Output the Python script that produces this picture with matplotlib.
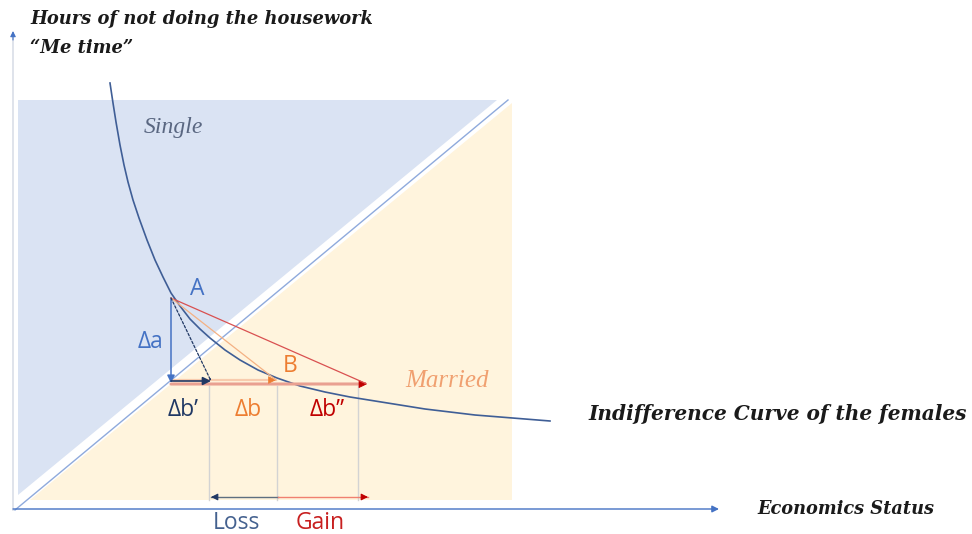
#!/usr/bin/env python3
"""Single vs married: indifference curve diagram of 'me time' vs economic status."""
import matplotlib.pyplot as plt
from matplotlib.patches import Polygon

# regions (pixel-like units, y grows downwards)
SINGLE_X = [18, 497, 18]
SINGLE_Y = [100, 100, 495]
MARRIED_X = [30, 512, 512]
MARRIED_Y = [500, 500, 103]
BORDER_X = [15, 508]
BORDER_Y = [510, 100]

# indifference curve, points
CURVE_X = [110, 113, 116, 120, 124, 128, 133, 139, 147, 155, 163, 171, 180, 190,
           200, 210, 225, 240, 258, 277, 300, 325, 350, 375, 400, 425, 450, 475,
           500, 525, 550]
CURVE_Y = [83, 103, 122, 145, 165, 182, 200, 218, 240, 260, 277, 293, 306, 319,
           329, 338, 350, 360, 370, 378, 386, 392, 397, 401, 405, 409, 412, 415,
           417, 419, 421]

POINT_A = (171, 298)
BASE_Y = 383
TIP_NAVY = (211, 381)
TIP_ORANGE = (276, 380)
TIP_RED = (367, 384)
DROP_X = [209, 277, 358]
BAR_Y = 497
LOSS_LEFT, MID_X, GAIN_RIGHT = 211, 278, 368

BLUE = "#4472C4"
NAVY = "#203864"
ORANGE = "#ED7D31"
RED = "#C00000"

serif = ["Liberation Serif", "DejaVu Serif"]
wide_serif = ["DejaVu Serif"]
sans = ["Open Sans", "DejaVu Sans"]


def arrow(ax, start, end, color, lw=1.0, ls="-", scale=11):
    ax.annotate("", xy=end, xytext=start,
                arrowprops=dict(arrowstyle="-|>", color=color, lw=lw,
                                linestyle=ls, mutation_scale=scale,
                                shrinkA=0, shrinkB=0))


fig = plt.figure(figsize=(9.72, 5.34), dpi=100)
ax = fig.add_axes([0, 0, 1, 1])
ax.set_xlim(0, 972)
ax.set_ylim(534, 0)
ax.axis("off")

ax.add_patch(Polygon(list(zip(SINGLE_X, SINGLE_Y)), closed=True,
                     facecolor="#DAE3F3", edgecolor="none"))
ax.add_patch(Polygon(list(zip(MARRIED_X, MARRIED_Y)), closed=True,
                     facecolor="#FFF4DD", edgecolor="none"))
ax.plot(BORDER_X, BORDER_Y, color="#8FAADC", lw=1.0)

# axes
ax.plot([13, 13], [510, 38], color="#D9DEE8", lw=1.2)
arrow(ax, (13, 40), (13, 31), BLUE, lw=0.8, scale=8)
arrow(ax, (13, 509), (719, 509), BLUE, lw=1.0, scale=10)

# guide lines under the arrows
for x in DROP_X:
    ax.plot([x, x], [386, 500], color="#D3D3D3", lw=1.0)

ax.plot(CURVE_X, CURVE_Y, color="#3F5E96", lw=1.2)

# decomposition arrows
arrow(ax, POINT_A, (POINT_A[0], BASE_Y), BLUE, lw=1.1)
arrow(ax, (POINT_A[0], TIP_RED[1]), TIP_RED, "#E9A091", lw=2.2, scale=4)
ax.annotate("", xy=TIP_RED, xytext=(TIP_RED[0] - 4, TIP_RED[1]),
            arrowprops=dict(arrowstyle="-|>", color=RED, lw=0.5,
                            mutation_scale=13, shrinkA=0, shrinkB=0))
ax.plot([POINT_A[0], TIP_ORANGE[0]], [TIP_ORANGE[1], TIP_ORANGE[1]],
        color="#F8CBAD", lw=1.6)
arrow(ax, (TIP_ORANGE[0] - 4, TIP_ORANGE[1]), TIP_ORANGE, ORANGE, lw=0.5, scale=12)
arrow(ax, (POINT_A[0], TIP_NAVY[1]), TIP_NAVY, NAVY, lw=1.2, scale=12)

arrow(ax, POINT_A, TIP_RED, "#D95050", lw=0.9, scale=1)
arrow(ax, POINT_A, TIP_ORANGE, "#F4B183", lw=0.9, scale=1)
arrow(ax, POINT_A, TIP_NAVY, NAVY, lw=0.9, ls=(0, (2, 1.5)), scale=1)

# loss / gain bar
ax.plot([LOSS_LEFT, MID_X], [BAR_Y, BAR_Y], color="#5F6F80", lw=1.0)
arrow(ax, (LOSS_LEFT + 6, BAR_Y), (LOSS_LEFT, BAR_Y), NAVY, lw=0.8, scale=10)
ax.plot([MID_X, GAIN_RIGHT], [BAR_Y, BAR_Y], color="#F08070", lw=1.0)
arrow(ax, (GAIN_RIGHT - 6, BAR_Y), (GAIN_RIGHT, BAR_Y), RED, lw=0.8, scale=10)

# texts
title_kw = dict(family=wide_serif, weight="bold", style="italic", color="#1A1A1A")
ax.text(30, 19, "Hours of not doing the housework", fontsize=12.9, va="center", **title_kw)
ax.text(30, 48, "\u201cMe time\u201d", fontsize=12.9, va="center", **title_kw)
ax.text(588, 414, "Indifference Curve of the females", fontsize=14.5, va="center", **title_kw)
ax.text(757, 509, "Economics Status", fontsize=12.8, va="center", **title_kw)

ax.text(173, 127, "Single", family=serif, style="italic", fontsize=17,
        color="#5A6781", ha="center", va="center")
ax.text(447, 381, "Married", family=serif, style="italic", fontsize=18,
        color="#F0A070", ha="center", va="center")

lab_kw = dict(family=sans, fontsize=16.5, ha="center", va="center")
ax.text(197, 289, "A", color=BLUE, **lab_kw)
ax.text(290, 366, "B", color=ORANGE, **lab_kw)
ax.text(150, 342, "\u0394a", color=BLUE, **lab_kw)
ax.text(183, 410, "\u0394b\u2019", color=NAVY, **lab_kw)
ax.text(248, 410, "\u0394b", color=ORANGE, **lab_kw)
ax.text(327, 410, "\u0394b\u201d", color=RED, **lab_kw)
ax.text(236, 523, "Loss", color="#44618F", **lab_kw)
ax.text(320, 523, "Gain", color="#C82020", **lab_kw)

fig.savefig("out.png", dpi=100)
